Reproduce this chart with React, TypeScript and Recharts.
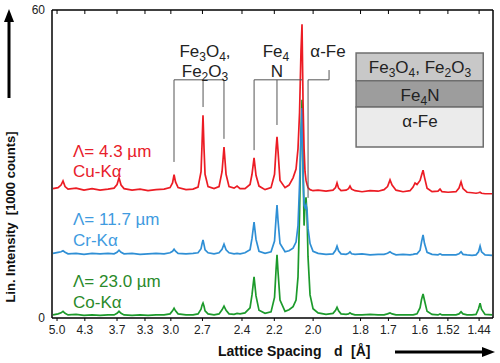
import React from 'react';
import { LineChart, Line, XAxis, YAxis, ReferenceLine, ReferenceArea } from 'recharts';

// x values: reciprocal lattice spacing 1/d [1/Å] (axis is linear in 1/d, labelled in d)
const invSpacing = [
  0.1953, 0.2012, 0.2047, 0.2070, 0.2094, 0.2129, 0.2223, 0.2316, 0.2410, 0.2504,
  0.2597, 0.2668, 0.2703, 0.2726, 0.2750, 0.2785, 0.2879, 0.2972, 0.3066, 0.3160,
  0.3254, 0.3324, 0.3353, 0.3371, 0.3388, 0.3418, 0.3511, 0.3593, 0.3652, 0.3687,
  0.3699, 0.3710, 0.3722, 0.3734, 0.3769, 0.3839, 0.3898, 0.3933, 0.3956, 0.3980,
  0.4015, 0.4074, 0.4109, 0.4144, 0.4202, 0.4261, 0.4284, 0.4308, 0.4331, 0.4366,
  0.4437, 0.4507, 0.4548, 0.4566, 0.4577, 0.4589, 0.4612, 0.4671, 0.4718, 0.4765,
  0.4800, 0.4823, 0.4841, 0.4858, 0.4870, 0.4882, 0.4894, 0.4905, 0.4917, 0.4929,
  0.4940, 0.4964, 0.4999, 0.5058, 0.5151, 0.5233, 0.5263, 0.5280, 0.5298, 0.5327,
  0.5386, 0.5415, 0.5432, 0.5450, 0.5491, 0.5573, 0.5667, 0.5761, 0.5831, 0.5872,
  0.5901, 0.5925, 0.5971, 0.6053, 0.6135, 0.6171, 0.6194, 0.6217, 0.6253, 0.6270,
  0.6288, 0.6305, 0.6335, 0.6393, 0.6463, 0.6487, 0.6510, 0.6581, 0.6674, 0.6709,
  0.6733, 0.6756, 0.6803, 0.6862, 0.6909, 0.6938, 0.6956, 0.6973, 0.7014, 0.7096,
];

// Cu-Kα (Λ = 4.3 µm), intensity in 1000 counts (offset trace)
const cuKa = [
  25.2, 25.4, 25.9, 26.7, 25.6, 25.1, 25.3, 24.9, 25.2, 24.9,
  25.1, 25.3, 26.0, 27.3, 25.9, 25.2, 24.9, 25.1, 24.8, 25.0,
  25.1, 25.4, 26.3, 27.9, 26.5, 25.4, 25.0, 25.1, 25.5, 28.5,
  34.0, 39.5, 33.0, 28.0, 25.6, 25.2, 25.6, 28.5, 33.3, 28.0,
  25.6, 25.3, 25.7, 25.2, 25.2, 26.0, 28.0, 31.2, 27.8, 25.7,
  25.0, 25.4, 28.0, 33.0, 35.3, 32.5, 26.8, 25.4, 25.9, 27.3,
  29.0, 33.0, 40.0, 52.0, 57.2, 42.0, 33.0, 28.5, 26.8, 26.0,
  25.4, 25.0, 24.8, 24.9, 24.7, 24.9, 25.4, 26.3, 25.3, 24.8,
  24.9, 25.2, 25.7, 25.1, 24.8, 24.6, 24.8, 24.7, 25.0, 25.6,
  26.9, 25.9, 24.9, 24.6, 24.8, 25.5, 26.3, 26.0, 26.8, 27.8,
  28.8, 27.4, 25.3, 24.6, 24.7, 25.1, 24.6, 24.5, 24.6, 25.3,
  26.5, 25.2, 24.5, 24.4, 24.3, 24.4, 24.5, 24.3, 24.2, 24.2,
];

// Cr-Kα (Λ = 11.7 µm)
const crKa = [
  12.6, 12.8, 12.9, 13.1, 12.8, 12.5, 12.6, 12.4, 12.6, 12.5,
  12.6, 12.5, 12.8, 13.2, 12.8, 12.5, 12.6, 12.4, 12.5, 12.6,
  12.5, 12.7, 13.0, 13.4, 13.0, 12.6, 12.5, 12.6, 12.7, 13.5,
  14.5, 15.2, 14.3, 13.3, 12.7, 12.5, 12.7, 13.4, 14.4, 13.3,
  12.7, 12.5, 12.6, 12.5, 12.7, 13.3, 15.5, 18.7, 15.3, 13.0,
  12.6, 12.9, 15.0, 19.5, 22.0, 19.0, 14.5, 12.9, 13.1, 13.6,
  14.8, 18.0, 26.0, 36.0, 40.9, 28.0, 22.0, 21.5, 22.0, 21.0,
  17.5, 14.5, 13.0, 12.6, 12.4, 12.5, 13.2, 14.0, 13.1, 12.5,
  12.4, 12.6, 12.9, 12.5, 12.4, 12.5, 12.3, 12.4, 12.4, 12.6,
  12.9, 12.6, 12.3, 12.4, 12.3, 12.4, 12.5, 12.5, 13.2, 14.8,
  16.2, 14.5, 12.8, 12.4, 12.3, 12.5, 12.3, 12.3, 12.3, 12.5,
  12.9, 12.4, 12.3, 12.2, 12.3, 12.9, 14.0, 12.9, 12.3, 12.2,
];

// Co-Kα (Λ = 23.0 µm)
const coKa = [
  0.6, 0.8, 1.0, 1.3, 0.9, 0.6, 0.7, 0.5, 0.6, 0.5,
  0.6, 0.6, 0.9, 1.3, 0.9, 0.6, 0.5, 0.6, 0.5, 0.6,
  0.6, 0.8, 1.4, 1.9, 1.4, 0.8, 0.6, 0.6, 0.8, 1.7,
  2.5, 2.9, 2.3, 1.4, 0.8, 0.6, 0.8, 1.6, 2.3, 1.5,
  0.8, 0.7, 0.9, 0.8, 1.0, 2.0, 4.5, 8.0, 4.3, 1.5,
  0.9, 1.2, 4.0, 9.5, 12.3, 9.0, 3.5, 1.3, 1.6, 2.2,
  3.5, 8.0, 20.0, 36.0, 42.5, 30.0, 18.0, 22.0, 23.5, 20.0,
  12.0, 4.5, 1.8, 1.0, 0.7, 0.9, 1.5, 2.1, 1.4, 0.8,
  0.7, 0.8, 1.0, 0.8, 0.6, 0.6, 0.7, 0.6, 0.6, 0.8,
  1.0, 0.8, 0.6, 0.6, 0.6, 0.6, 0.7, 0.8, 2.0, 3.6,
  4.7, 3.4, 1.3, 0.7, 0.6, 0.8, 0.6, 0.6, 0.6, 0.8,
  1.2, 0.8, 0.6, 0.6, 0.7, 1.8, 2.9, 1.7, 0.7, 0.6,
];

// axis ticks: lattice spacing d [Å]
const dTicks = [5.0, 4.3, 3.7, 3.3, 3.0, 2.7, 2.4, 2.2, 2.0, 1.8, 1.7, 1.6, 1.52, 1.44];
const dTickLabels = ['5.0', '4.3', '3.7', '3.3', '3.0', '2.7', '2.4', '2.2', '2.0', '1.8', '1.7', '1.6', '1.52', '1.44'];
const yTicks = [0, 12, 24, 36, 48, 60];
const yTickLabels = ['0', '', '', '', '', '60'];
const dRange = [5.152, 1.407];
const yRange = [0, 60];

// phase marker brackets: [d1, I1, d2, I2]
const brackets = [
  [2.967, 46.4, 2.528, 46.4],
  [2.967, 46.4, 2.967, 30.4],
  [2.695, 46.4, 2.695, 41.1],
  [2.528, 46.4, 2.528, 34.9],
  [2.321, 46.4, 2.053, 46.4],
  [2.321, 46.4, 2.321, 32.7],
  [2.185, 46.4, 2.185, 37.6],
  [1.928, 48.3, 1.928, 46.4],
  [1.928, 46.4, 2.024, 46.4],
  [2.024, 46.4, 2.024, 23.4],
];

// layer-stack inset: d range and intensity range of each layer
const insetD = [1.817, 1.430];
const insetLayers = [
  { top: 51.6, bottom: 46.2, fill: '#c8c8c8' },
  { top: 46.2, bottom: 41.1, fill: '#9d9d9d' },
  { top: 41.1, bottom: 33.3, fill: '#ebebeb' },
];

const data = invSpacing.map((q, i) => ({ q, cu: cuKa[i], cr: crKa[i], co: coKa[i] }));
const inv = (d: number) => 1 / d;
const FONT = '"Liberation Sans", Arial, sans-serif';

const xTickFmt = (v: number) => {
  const i = dTicks.findIndex((d) => Math.abs(inv(d) - v) < 1e-6);
  return i >= 0 ? dTickLabels[i] : '';
};
const yTickFmt = (v: number) => {
  const i = yTicks.indexOf(v);
  return i >= 0 ? yTickLabels[i] : '';
};
const EmptyTick = () => <g />;

export default function App() {
  const xDomain = [inv(dRange[0]), inv(dRange[1])];
  const xTicks = dTicks.map(inv);
  const axisStyle = { stroke: '#000', strokeWidth: 1.5 };
  return (
    <div style={{ position: 'absolute', left: 0, top: 0, width: 500, height: 363, background: '#fff', fontFamily: FONT }}>
      <LineChart width={500} height={363} data={data} margin={{ top: 10, right: 7, bottom: 15, left: 12 }}>
        <XAxis xAxisId="b" dataKey="q" type="number" domain={xDomain} allowDataOverflow ticks={xTicks} interval={0}
          tickFormatter={xTickFmt} height={30} tickSize={3} tickMargin={4} axisLine={axisStyle}
          tickLine={{ stroke: '#000' }} tick={{ fill: '#222', fontSize: 12, fontFamily: FONT }} />
        <XAxis xAxisId="t" orientation="top" dataKey="q" type="number" domain={xDomain} allowDataOverflow ticks={xTicks}
          interval={0} mirror tickSize={4} axisLine={axisStyle} tickLine={{ stroke: '#000' }} tick={EmptyTick} />
        <YAxis yAxisId="l" type="number" domain={yRange} ticks={yTicks} interval={0} tickFormatter={yTickFmt} width={40}
          tickSize={6} tickMargin={1} tickLine={false} axisLine={axisStyle}
          tick={{ fill: '#222', fontSize: 12, fontFamily: FONT }} />
        <YAxis yAxisId="l2" type="number" domain={yRange} ticks={yTicks} interval={0} mirror tickSize={4}
          axisLine={false} tickLine={{ stroke: '#000' }} tick={EmptyTick} />
        <YAxis yAxisId="r" orientation="right" type="number" domain={yRange} ticks={yTicks} interval={0} mirror
          tickSize={4} axisLine={axisStyle} tickLine={{ stroke: '#000' }} tick={EmptyTick} />
        {insetLayers.map((l, i) => (
          <ReferenceArea key={'ly' + i} xAxisId="b" yAxisId="l" x1={inv(insetD[0])} x2={inv(insetD[1])} y1={l.bottom} y2={l.top}
            fill={l.fill} fillOpacity={1} stroke="#6e6e6e" strokeWidth={1.5} />
        ))}
        <Line xAxisId="b" yAxisId="l" dataKey="co" type="linear" stroke="#1c9a2b" strokeWidth={1.7} dot={false} isAnimationActive={false} />
        <Line xAxisId="b" yAxisId="l" dataKey="cr" type="linear" stroke="#2f8fd5" strokeWidth={1.7} dot={false} isAnimationActive={false} />
        <Line xAxisId="b" yAxisId="l" dataKey="cu" type="linear" stroke="#ec1c24" strokeWidth={1.7} dot={false} isAnimationActive={false} />
        {brackets.map((b, i) => (
          <ReferenceLine key={'br' + i} xAxisId="b" yAxisId="l"
            segment={[{ x: inv(b[0]), y: b[1] }, { x: inv(b[2]), y: b[3] }]} stroke="#555" strokeWidth={1} />
        ))}
      </LineChart>
      <svg width={500} height={363} style={{ position: 'absolute', left: 0, top: 0, pointerEvents: 'none' }} fontFamily={FONT}>
        <text transform="translate(15,217) rotate(-90)" textAnchor="middle" fontSize={13} fontWeight="bold" fill="#111">
          {'Lin. Intensity\u00a0\u00a0[1000 counts]'}
        </text>
        <line x1={9} y1={98} x2={9} y2={20} stroke="#000" strokeWidth={3} />
        <polygon points="9,9 4,22 14,22" fill="#000" />
        <text x={218} y={356} fontSize={14} fontWeight="bold" fill="#111">Lattice Spacing</text>
        <text x={334} y={356} fontSize={14} fontWeight="bold" fill="#111">d</text>
        <text x={351} y={356} fontSize={14} fontWeight="bold" fill="#111">[Å]</text>
        <line x1={395} y1={352} x2={483} y2={352} stroke="#000" strokeWidth={3} />
        <polygon points="495,352 482,347 482,357" fill="#000" />
        <text x={73} y={157} fontSize={17} fill="#e8202a">Λ= 4.3 µm</text>
        <text x={73} y={177} fontSize={17} fill="#e8202a">Cu-Kα</text>
        <text x={73} y={225} fontSize={17} fill="#3f9be0">Λ= 11.7 µm</text>
        <text x={73} y={246} fontSize={17} fill="#3f9be0">Cr-Kα</text>
        <text x={73} y={287} fontSize={17} fill="#2a8a2a">Λ= 23.0 µm</text>
        <text x={73} y={308} fontSize={17} fill="#2a8a2a">Co-Kα</text>
        <text x={205} y={57} fontSize={17} fill="#222" textAnchor="middle">Fe<tspan fontSize={12} dy={4}>3</tspan><tspan dy={-4}>O</tspan><tspan fontSize={12} dy={4}>4</tspan><tspan dy={-4}>,</tspan></text>
        <text x={205} y={77} fontSize={17} fill="#222" textAnchor="middle">Fe<tspan fontSize={12} dy={4}>2</tspan><tspan dy={-4}>O</tspan><tspan fontSize={12} dy={4}>3</tspan></text>
        <text x={276} y={57} fontSize={17} fill="#222" textAnchor="middle">Fe<tspan fontSize={12} dy={4}>4</tspan></text>
        <text x={277} y={77} fontSize={17} fill="#222" textAnchor="middle">N</text>
        <text x={328} y={57} fontSize={17} fill="#222" textAnchor="middle">α-Fe</text>
        <text x={420} y={73} fontSize={17} fill="#222" textAnchor="middle">Fe<tspan fontSize={12} dy={4}>3</tspan><tspan dy={-4}>O</tspan><tspan fontSize={12} dy={4}>4</tspan><tspan dy={-4}>, Fe</tspan><tspan fontSize={12} dy={4}>2</tspan><tspan dy={-4}>O</tspan><tspan fontSize={12} dy={4}>3</tspan></text>
        <text x={420} y={101} fontSize={17} fill="#222" textAnchor="middle">Fe<tspan fontSize={12} dy={4}>4</tspan><tspan dy={-4}>N</tspan></text>
        <text x={420} y={127} fontSize={17} fill="#222" textAnchor="middle">α-Fe</text>
      </svg>
    </div>
  );
}
